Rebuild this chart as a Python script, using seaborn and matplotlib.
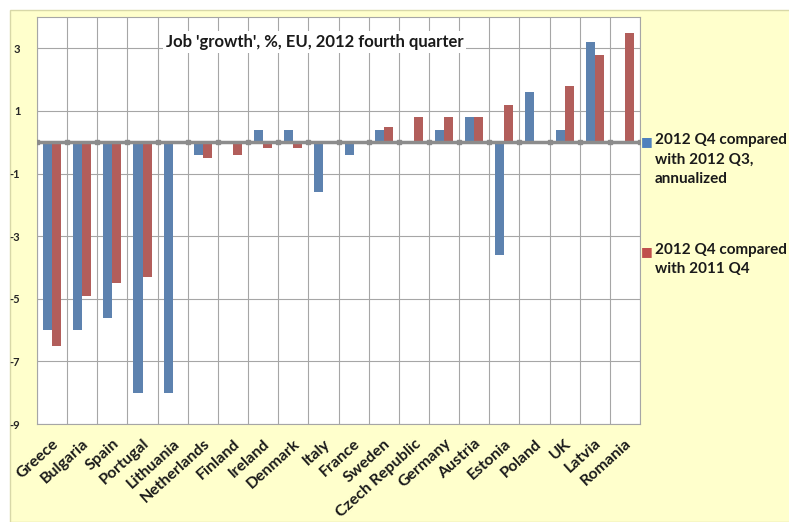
import numpy as np
import matplotlib
matplotlib.use("Agg")
import matplotlib.pyplot as plt
import matplotlib.patches as mpatches
import seaborn as sns
import pandas as pd

# — Dados —
paises = ["Greece", "Bulgaria", "Spain", "Portugal", "Lithuania", "Netherlands",
          "Finland", "Ireland", "Denmark", "Italy", "France", "Sweden",
          "Czech Republic", "Germany", "Austria", "Estonia", "Poland", "UK",
          "Latvia", "Romania"]
q4_vs_q3 = [-6.0, -6.0, -5.6, -8.0, -8.0, -0.4, 0.0, 0.4, 0.4, -1.6, -0.4, 0.4,
            0.0, 0.4, 0.8, -3.6, 1.6, 0.4, 3.2, 0.0]
q4_vs_q4 = [-6.5, -4.9, -4.5, -4.3, 0.0, -0.5, -0.4, -0.2, -0.2, -0.05, -0.05, 0.5,
            0.8, 0.8, 0.8, 1.2, 0.0, 1.8, 2.8, 3.5]
serie_nomes = ["2012 Q4 compared\nwith 2012 Q3,\nannualized",
               "2012 Q4 compared\nwith 2011 Q4"]
y_ticks = [-9, -7, -5, -3, -1, 1, 3]
titulo = "Job 'growth', %, EU, 2012 fourth quarter"

azul = "#4F81BD"
vermelho = "#C0504D"
fundo = "#FFFFCC"

df = pd.DataFrame({
    "pais": paises * 2,
    "valor": q4_vs_q3 + q4_vs_q4,
    "serie": [serie_nomes[0]] * len(paises) + [serie_nomes[1]] * len(paises),
})

sns.set_style("white")
plt.rcParams['font.family'] = ['Lato', 'DejaVu Sans']

fig = plt.figure(figsize=(7.89, 5.22), dpi=100)
fig.patch.set_facecolor("white")
# fundo amarelo do gráfico
fig.patches.append(mpatches.Rectangle((10 / 789, 0), 1, 1 - 10 / 522,
                                      transform=fig.transFigure, facecolor=fundo,
                                      edgecolor="#d8d8a8", lw=1, zorder=-10))

ax = fig.add_axes([37 / 789, (522 - 424) / 522, (640 - 37) / 789, (424 - 17) / 522])
ax.set_facecolor("white")

sns.barplot(data=df, x="pais", y="valor", hue="serie", order=paises,
            hue_order=serie_nomes, palette=[azul, vermelho], width=0.6,
            linewidth=0, ax=ax, legend=False, zorder=3)

n = len(paises)
ax.set_xlim(-0.5, n - 0.5)
ax.set_ylim(-9, 4)
ax.set_yticks(y_ticks)
ax.set_yticklabels([str(t) for t in y_ticks], fontsize=8, fontweight="bold")
ax.set_xlabel("")
ax.set_ylabel("")

# grade
fronteiras = np.arange(-0.5, n, 1.0)
ax.set_xticks(fronteiras, minor=True)
ax.grid(True, which="minor", axis="x", color="#a6a6a6", lw=0.8, zorder=0)
ax.grid(True, which="major", axis="y", color="#a6a6a6", lw=0.8, zorder=0)
ax.tick_params(axis="x", which="both", length=0, pad=9)
ax.tick_params(axis="y", length=4, color="#a6a6a6", pad=8)

for lbl in ax.get_xticklabels():
    lbl.set_rotation(42)
    lbl.set_ha("right")
    lbl.set_rotation_mode("anchor")
    lbl.set_fontweight("bold")
    lbl.set_fontsize(11.5)
    lbl.set_color("#1a1a1a")

for s in ax.spines.values():
    s.set_color("#a6a6a6")
    s.set_linewidth(0.8)

# linha do zero com marcas
ax.axhline(0, color="#8c8c8c", lw=2.5, zorder=4)
ax.plot(fronteiras, np.zeros(len(fronteiras)), ls="", marker="s", ms=3.5,
        color="#8c8c8c", zorder=4)

# título com fundo branco
ax.text(0.46, 0.9386, titulo, transform=ax.transAxes, ha="center", va="center",
        fontsize=12, fontweight="bold", color="#1a1a1a", zorder=6,
        bbox=dict(facecolor="white", edgecolor="none", pad=2))

# legenda manual
fig.text(641 / 789, 1 - 142 / 522, "■", color=azul, fontsize=9, va="center", ha="left",
         family=["DejaVu Sans"])
fig.text(655 / 789, 1 - 133 / 522, serie_nomes[0], fontsize=11, fontweight="bold",
         va="top", ha="left", linespacing=1.5, color="#1a1a1a")
fig.text(641 / 789, 1 - 252 / 522, "■", color=vermelho, fontsize=9, va="center", ha="left",
         family=["DejaVu Sans"])
fig.text(655 / 789, 1 - 243 / 522, serie_nomes[1], fontsize=11, fontweight="bold",
         va="top", ha="left", linespacing=1.5, color="#1a1a1a")

fig.savefig("out.png", dpi=100, facecolor=fig.get_facecolor())
